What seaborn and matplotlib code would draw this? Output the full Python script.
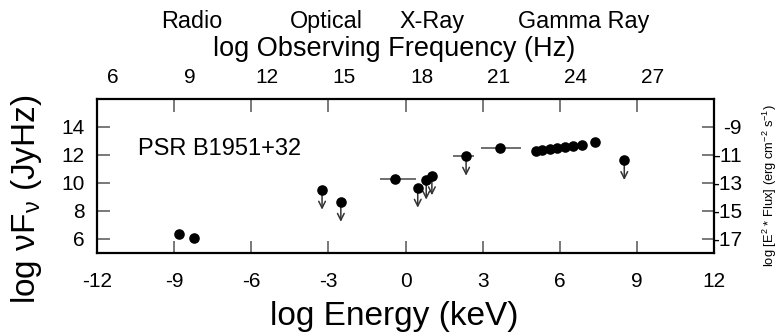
import numpy as np
import pandas as pd
import matplotlib
matplotlib.use("Agg")
import matplotlib.pyplot as plt
import seaborn as sns

# Spectral energy distribution of PSR B1951+32
energy = [-8.80, -8.24, -3.25, -2.52, -0.40, 0.47, 0.80, 1.02, 2.35, 3.68,
          5.07, 5.30, 5.62, 5.88, 6.20, 6.50, 6.85, 7.35, 8.50]
flux = [6.37, 6.06, 9.48, 8.61, 10.25, 9.62, 10.20, 10.51, 11.91, 12.50,
        12.30, 12.38, 12.45, 12.50, 12.55, 12.62, 12.70, 12.95, 11.60]
upper_limit = [False, False, True, True, False, True, True, True, True, False,
               False, False, False, False, False, False, False, False, True]
x_lo = [0, 0, 0, 0, 0.60, 0, 0, 0, 0.49, 0.75, 0, 0, 0, 0, 0, 0, 0, 0, 0]
x_hi = [0, 0, 0, 0, 0.80, 0, 0, 0, 0.29, 0.80, 0, 0, 0, 0, 0, 0, 0, 0, 0]
y_err = [0, 0, 0, 0, 0, 0, 0, 0, 0, 0.20, 0, 0, 0, 0, 0.15, 0, 0.20, 0.25, 0]

x_ticks = [-12, -9, -6, -3, 0, 3, 6, 9, 12]
y_ticks = [6, 8, 10, 12, 14]
cgs_ticks = [-17, -15, -13, -11, -9]
freq_ticks = [6, 9, 12, 15, 18, 21, 24, 27]
band_names = ["Radio", "Optical", "X-Ray", "Gamma Ray"]
band_freq = [9.05, 14.3, 18.4, 24.3]

KEV_TO_HZ = 17.383   # log10(1 keV / h)
JYHZ_TO_CGS = 23.0   # log10(Jy Hz) -> log10(erg cm^-2 s^-1)

sns.set_style("ticks")
plt.rcParams["font.family"] = ["Liberation Sans", "DejaVu Sans"]
plt.rcParams["mathtext.fontset"] = "custom"
plt.rcParams["mathtext.rm"] = "Liberation Sans"
plt.rcParams["mathtext.it"] = "Liberation Sans"
plt.rcParams["axes.unicode_minus"] = False
plt.rcParams["text.color"] = "black"
plt.rcParams["axes.labelcolor"] = "black"

df = pd.DataFrame({"energy": energy, "flux": flux, "ul": upper_limit,
                   "xlo": x_lo, "xhi": x_hi, "yerr": y_err})

fig = plt.figure(figsize=(7.81, 3.36), dpi=100)
ax = fig.add_axes([0.1242, 0.2479, 0.7904, 0.4575])

grey = "#6e6e6e"
# error bars
for _, r in df.iterrows():
    if r.xlo > 0 or r.xhi > 0:
        ax.errorbar(r.energy, r.flux, xerr=[[r.xlo], [r.xhi]], fmt="none",
                    ecolor=grey, elinewidth=1.4, capsize=0, zorder=2)
    if r.yerr > 0:
        ax.errorbar(r.energy, r.flux, yerr=r.yerr, fmt="none",
                    ecolor=grey, elinewidth=1.4, capsize=0, zorder=2)
# upper-limit arrows
for _, r in df[df.ul].iterrows():
    ax.annotate("", xy=(r.energy, r.flux - 1.4), xytext=(r.energy, r.flux),
                arrowprops=dict(arrowstyle="->", color="#333333", lw=1.1,
                                mutation_scale=12, shrinkA=0, shrinkB=0),
                zorder=2)

sns.scatterplot(data=df, x="energy", y="flux", ax=ax, color="black",
                s=58, edgecolor="black", linewidth=0, zorder=3, legend=False)

ax.set_xlim(-12, 12)
ax.set_ylim(5, 16)
ax.set_xticks(x_ticks)
ax.set_yticks(y_ticks)
ax.set_xticklabels([str(t) for t in x_ticks])
for s in ax.spines.values():
    s.set_visible(True)
    s.set_linewidth(1.6)
    s.set_color("black")
ax.tick_params(axis="x", direction="in", length=9, width=1.3, color=grey,
               labelcolor="black", top=True, labelsize=15, pad=14)
ax.tick_params(axis="y", direction="in", length=9, width=1.3, color=grey,
               labelcolor="black", right=False, labelsize=15, pad=9)
ax.set_xlabel("log Energy (keV)", fontsize=24)
ax.xaxis.set_label_coords(0.481, -0.315)
ax.set_ylabel(r"log $\mathregular{\nu}$F$_{\mathregular{\nu}}$ (JyHz)",
              fontsize=24)
ax.yaxis.set_label_coords(-0.086, 0.35)

ax.text(-10.4, 12.45, "PSR B1951+32", fontsize=17, va="center", ha="left")

# frequency axis on top
top = ax.secondary_xaxis("top", functions=(lambda e: e + KEV_TO_HZ,
                                           lambda f: f - KEV_TO_HZ))
top.set_xticks(freq_ticks)
top.tick_params(axis="x", length=0, labelsize=15, pad=8.5, labelcolor="black")
top.spines["top"].set_visible(False)
top.set_xlabel("log Observing Frequency (Hz)", fontsize=19.5)
top.xaxis.set_label_coords(0.481, 1.28, transform=ax.transAxes)

for name, f in zip(band_names, band_freq):
    ax.text(f - KEV_TO_HZ, 1.462, name, transform=ax.get_xaxis_transform(),
            ha="center", va="baseline", fontsize=16.8)

# cgs flux axis on the right
right = ax.secondary_yaxis("right", functions=(lambda y: y - JYHZ_TO_CGS,
                                               lambda y: y + JYHZ_TO_CGS))
right.set_yticks(cgs_ticks)
right.tick_params(axis="y", direction="in", length=9, width=1.3, color=grey,
                  labelcolor="black", labelsize=15, pad=20)
right.spines["right"].set_visible(False)
right.set_ylabel(r"log [E$^2$ * Flux] (erg cm$^{-2}$ s$^{-1}$)", fontsize=9.3)
right.yaxis.set_label_coords(1.0746, 0.434, transform=ax.transAxes)

fig.canvas.draw()
for lab in right.get_yticklabels():
    lab.set_ha("right")

fig.savefig("out.png", dpi=100)
